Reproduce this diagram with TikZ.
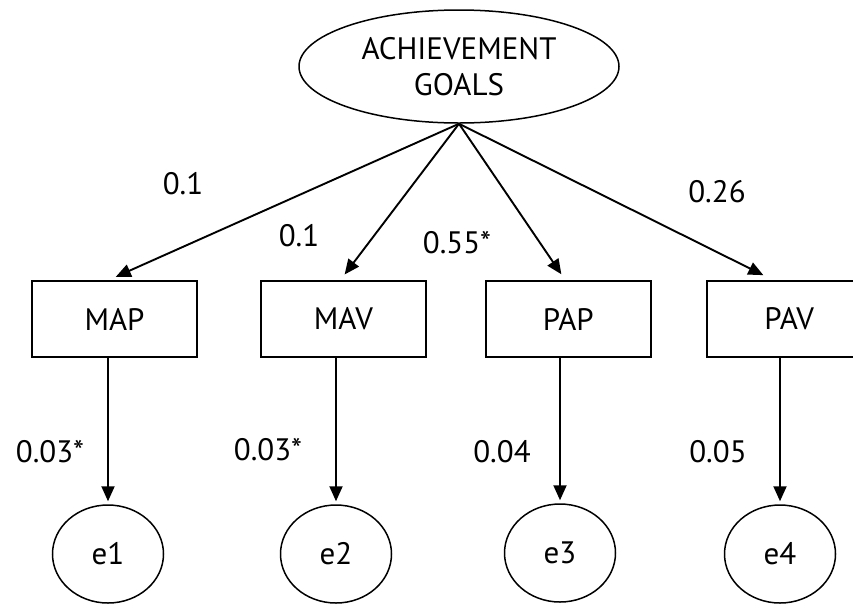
\documentclass[tikz,border=0pt]{standalone}
\usepackage{fontspec}
\setmainfont{PT Sans}
\usetikzlibrary{positioning,arrows.meta,shapes.geometric}

\begin{document}
\begin{tikzpicture}[x=1pt,y=1pt,
  font=\fontsize{31}{36}\selectfont,
  every node/.style={inner sep=0pt},
  latent/.style={draw,ellipse,line width=1.5pt},
  obs/.style={draw,rectangle,line width=1.9pt,minimum width=165pt,minimum height=76pt},
  err/.style={draw,ellipse,line width=1.5pt,minimum width=111pt,minimum height=98pt},
  arr/.style={line width=1.9pt,-{Triangle[length=15pt,width=13pt]}}]
\useasboundingbox (0,0) rectangle (853,-606);
\node[latent,minimum width=320pt,minimum height=113pt,align=center] (goals) at (459,-66.5) {ACHIEVEMENT\\GOALS};
\node[obs] (map) at (114.5,-319) {MAP};
\node[obs,right=62pt of map] (mav) {MAV};
\node[obs,right=58pt of mav] (pap) {PAP};
\node[obs,right=54pt of pap] (pav) {PAV};
\node[err] (e1) at (108,-554) {e1};
\node[err] (e2) at (336,-554) {e2};
\node[err] (e3) at (560,-553) {e3};
\node[err] (e4) at (780,-554) {e4};
% loadings
\draw[arr,shorten >=8pt] (goals.south) -- ([xshift=-6pt]map.north);
\draw[arr,shorten >=7pt] (goals.south) -- ([xshift=-3pt]mav.north);
\draw[arr,shorten >=7pt] (goals.south) -- ([xshift=-3pt]pap.north);
\draw[arr,shorten >=11pt] (goals.south) -- ([xshift=-16pt]pav.north);
% errors
\foreach \b/\e in {map/e1,mav/e2,pap/e3,pav/e4}
  \draw[arr,shorten >=3pt] (\e.north |- \b.south) -- (\e.north);
% coefficients
\node (l1) at (183,-184) {0.1};
\node (l2) at (299,-236) {0.1};
\node (l3) at (457,-243) {0.55*};
\node (l4) at (717,-192) {0.26};
\node (r1) at (50,-452) {0.03*};
\node (r2) at (268,-450) {0.03*};
\node (r3) at (502,-452) {0.04};
\node (r4) at (718,-452) {0.05};
\end{tikzpicture}
\end{document}
